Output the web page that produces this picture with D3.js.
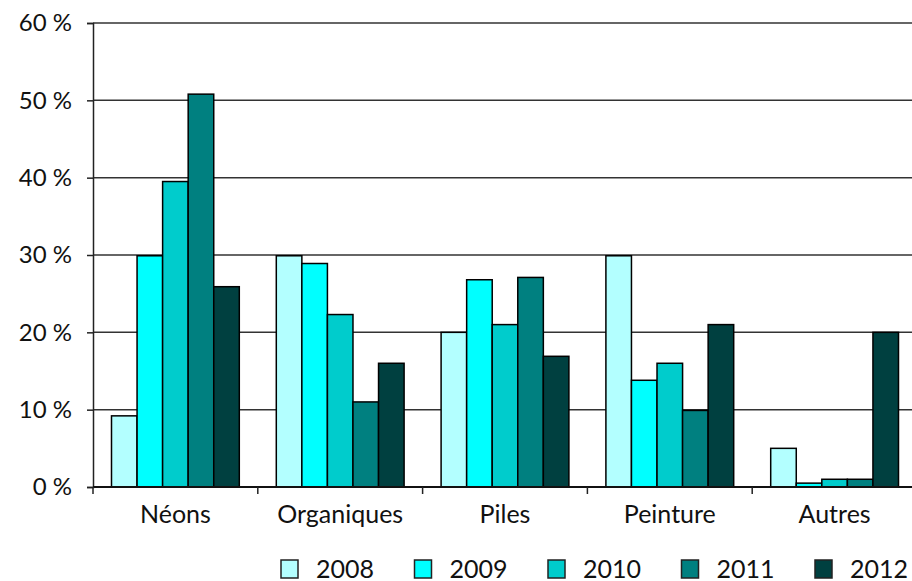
<!DOCTYPE html>
<html>
<head>
<meta charset="utf-8">
<script src="https://cdn.jsdelivr.net/npm/d3@7"></script>
<style>
  body { margin: 0; background: #fff; }
  text { font-family: Lato, "Noto Sans", sans-serif; fill: #111; }
</style>
</head>
<body>
<div id="chart"></div>
<script>
// data
var categories = ["Néons", "Organiques", "Piles", "Peinture", "Autres"];
var years = ["2008", "2009", "2010", "2011", "2012"];
var v2008 = [9.2, 29.9, 20, 29.9, 5];
var v2009 = [29.9, 28.9, 26.8, 13.8, 0.5];
var v2010 = [39.5, 22.3, 21, 16, 1];
var v2011 = [50.8, 11, 27.1, 9.9, 1];
var v2012 = [25.9, 16, 16.9, 21, 20];
var yTicks = [0, 10, 20, 30, 40, 50, 60];
var colors = ["#b3ffff", "#00ffff", "#00cccc", "#008080", "#004040"];

var series = [v2008, v2009, v2010, v2011, v2012];

var width = 912, height = 581;
var margin = {top: 23, right: -5, bottom: 94, left: 93};
var pw = width - margin.left - margin.right,
    ph = height - margin.top - margin.bottom;

var svg = d3.select("#chart")
  .append("svg")
  .attr("width", width)
  .attr("height", height);

var g = svg.append("g")
  .attr("transform", "translate(" + margin.left + "," + margin.top + ")");

var x0 = d3.scaleBand()
  .domain(categories)
  .range([0, pw])
  .padding(0);

var x1 = d3.scaleBand()
  .domain(years)
  .range([18.5, x0.bandwidth() - 18.5])
  .padding(0);

var y = d3.scaleLinear()
  .domain([0, 60])
  .range([ph, 0]);

// grid lines
g.selectAll(".grid")
  .data(yTicks.slice(1))
  .enter().append("line")
  .attr("class", "grid")
  .attr("x1", 0)
  .attr("x2", width)
  .attr("y1", function(d) { return y(d); })
  .attr("y2", function(d) { return y(d); })
  .attr("stroke", "#333")
  .attr("stroke-width", 1.5);

// bars
var rows = [];
categories.forEach(function(c, i) {
  years.forEach(function(yr, j) {
    rows.push({cat: c, year: yr, value: series[j][i], color: colors[j]});
  });
});

g.selectAll(".bar")
  .data(rows)
  .enter().append("rect")
  .attr("class", "bar")
  .attr("x", function(d) { return x0(d.cat) + x1(d.year); })
  .attr("y", function(d) { return y(d.value); })
  .attr("width", x1.bandwidth())
  .attr("height", function(d) { return ph - y(d.value); })
  .attr("fill", function(d) { return d.color; })
  .attr("stroke", "#000")
  .attr("stroke-width", 1.5);

// y axis
var yAxis = g.append("g")
  .call(d3.axisLeft(y)
    .tickValues(yTicks)
    .tickSize(6)
    .tickPadding(15)
    .tickFormat(function(d) { return d + " %"; }));
yAxis.select(".domain").attr("stroke", "#222").attr("stroke-width", 1.5);
yAxis.selectAll(".tick line").attr("stroke", "#222").attr("stroke-width", 1.5);
yAxis.selectAll("text")
  .style("font-size", "24px")
  .style("fill", "#111");

// x axis
var xAxis = g.append("g")
  .attr("transform", "translate(0," + ph + ")")
  .call(d3.axisBottom(x0).tickSize(0).tickPadding(18));
xAxis.select(".domain").remove();
xAxis.selectAll("text")
  .style("font-size", "25px")
  .style("fill", "#111");

g.append("line")
  .attr("x1", 0).attr("x2", width)
  .attr("y1", ph).attr("y2", ph)
  .attr("stroke", "#111")
  .attr("stroke-width", 2);

// boundary ticks between categories
g.selectAll(".xtick")
  .data(categories)
  .enter().append("line")
  .attr("class", "xtick")
  .attr("x1", function(d) { return x0(d); })
  .attr("x2", function(d) { return x0(d); })
  .attr("y1", ph)
  .attr("y2", ph + 7)
  .attr("stroke", "#222")
  .attr("stroke-width", 1.5);

// legend
var legend = svg.append("g")
  .attr("transform", "translate(281,560)");

var item = legend.selectAll(".item")
  .data(years)
  .enter().append("g")
  .attr("class", "item")
  .attr("transform", function(d, i) { return "translate(" + (i * 133.5) + ",0)"; });

item.append("rect")
  .attr("width", 17)
  .attr("height", 18)
  .attr("fill", function(d, i) { return colors[i]; })
  .attr("stroke", "#222")
  .attr("stroke-width", 1.5);

item.append("text")
  .attr("x", 35)
  .attr("y", 17.5)
  .style("font-size", "25px")
  .text(function(d) { return d; });
</script>
</body>
</html>
